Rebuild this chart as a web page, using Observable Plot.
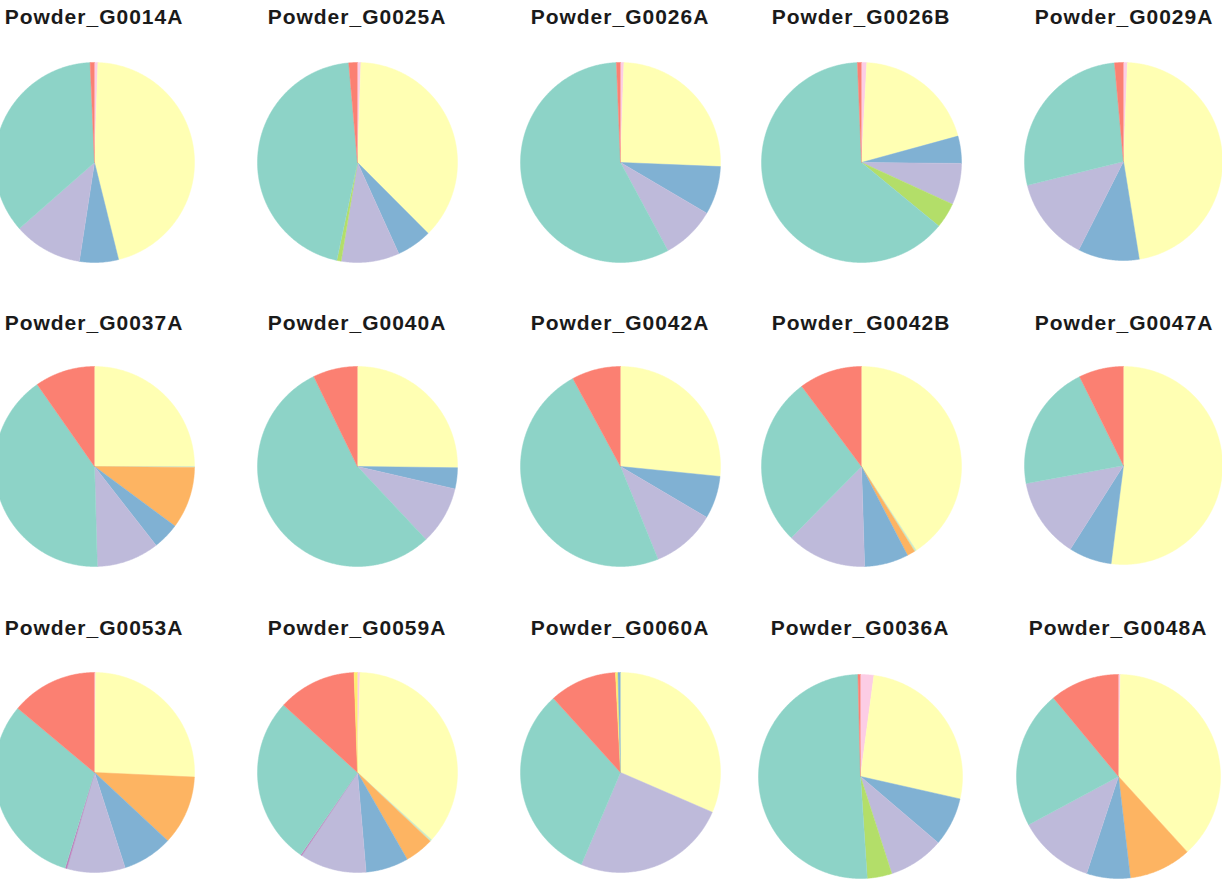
<!DOCTYPE html>
<html>
<head>
<meta charset="utf-8">
<script src="https://cdn.jsdelivr.net/npm/d3@7"></script>
<script src="https://cdn.jsdelivr.net/npm/@observablehq/plot@0.6"></script>
<style>
html, body { margin: 0; padding: 0; background: #fff; overflow: hidden; }
#fig { position: relative; width: 1222px; height: 883px; overflow: hidden; background: #fff; }
.title { position: absolute; width: 300px; text-align: center; font-family: "Liberation Sans", Arial, Helvetica, sans-serif; font-weight: bold; font-size: 21px; line-height: 21px; letter-spacing: 1px; color: #1a1a1a; white-space: nowrap; }
.pie { position: absolute; }
</style>
</head>
<body>
<div id="fig"></div>
<script>
// ---- data ----
const samples = ["Powder_G0014A", "Powder_G0025A", "Powder_G0026A", "Powder_G0026B", "Powder_G0029A",
                 "Powder_G0037A", "Powder_G0040A", "Powder_G0042A", "Powder_G0042B", "Powder_G0047A",
                 "Powder_G0053A", "Powder_G0059A", "Powder_G0060A", "Powder_G0036A", "Powder_G0048A"];
const categories = ["Group 01", "Group 02", "Group 03", "Group 04", "Group 05", "Group 06",
                    "Group 07", "Group 08", "Group 09", "Group 10", "Group 11", "Group 12"];
const colors = ["#fccde5", "#ffffb3", "#ccebc5", "#fdb462", "#80b1d3", "#bebada",
                "#bc80bd", "#b3de69", "#8dd3c7", "#fb8072", "#ffed6f", "#80b1d3"];

// one series per category, values (%) in sample order
const g01 = [0.55, 0.55, 0.55, 0.85, 0.65, 0, 0, 0, 0, 0, 0.2, 0.4, 0, 2.1, 0.3];
const g02 = [45.6, 37.0, 25.1, 19.9, 46.8, 25.0, 25.2, 26.6, 40.8, 52.0, 25.5, 36.4, 31.5, 26.4, 37.9];
const g03 = [0, 0, 0, 0, 0, 0.15, 0, 0, 0.3, 0, 0, 0.3, 0, 0, 0];
const g04 = [0, 0, 0, 0, 0, 10.0, 0, 0, 1.3, 0, 11.2, 4.7, 0, 0, 9.9];
const g05 = [6.3, 5.7, 7.8, 4.4, 10.0, 4.3, 3.4, 6.9, 7.1, 7.0, 8.1, 6.9, 0, 7.7, 6.9];
const g06 = [11.1, 9.4, 8.7, 6.7, 13.7, 10.1, 9.4, 10.4, 12.9, 13.1, 9.4, 10.8, 24.9, 8.8, 12.1];
const g07 = [0, 0, 0, 0, 0, 0, 0, 0, 0, 0, 0.3, 0.2, 0, 0, 0];
const g08 = [0, 0.7, 0, 4.1, 0, 0, 0, 0, 0, 0, 0, 0, 0, 3.9, 0];
const g09 = [35.8, 45.3, 57.2, 63.4, 27.4, 40.75, 54.8, 48.25, 27.4, 20.6, 31.3, 27.2, 31.9, 50.6, 21.8];
const g10 = [0.7, 1.4, 0.65, 0.65, 1.45, 9.7, 7.2, 7.9, 10.2, 7.3, 13.9, 12.7, 10.9, 0.4, 11.0];
const g11 = [0, 0, 0, 0, 0, 0, 0, 0, 0, 0, 0, 0.55, 0.4, 0, 0];
const g12 = [0, 0, 0, 0, 0, 0, 0, 0, 0, 0, 0, 0, 0.4, 0, 0];

const series = [g01, g02, g03, g04, g05, g06, g07, g08, g09, g10, g11, g12];

// ---- layout ----
const panelCx = [94, 357, 620, 861, 1124,  94, 357, 620, 861, 1124,  94, 357, 620, 860, 1118];
const panelCy = [162, 162, 162, 162, 162,  466, 466, 466, 466, 466,  772, 772, 772, 776, 776];
const panelR  = [100, 100, 100, 100, 100,  100, 100, 100, 100, 100,  100, 100, 100, 102, 102];
const titleTop = [6, 6, 6, 6, 6,  312, 312, 312, 312, 312,  617, 617, 617, 617, 617];

const fig = document.getElementById("fig");

samples.forEach((name, i) => {
  const vals = categories.map((c, k) => ({cat: c, v: series[k][i]})).filter(d => d.v > 0);
  const arcs = d3.pie().sort(null).value(d => d.v)(vals);
  const pts = [];
  const step = Math.PI / 360;
  arcs.forEach(a => {
    const cat = a.data.cat;
    pts.push({cat, x: 0, y: 0});
    for (let t = a.startAngle; t < a.endAngle; t += step) pts.push({cat, x: Math.sin(t), y: Math.cos(t)});
    pts.push({cat, x: Math.sin(a.endAngle), y: Math.cos(a.endAngle)});
  });
  const r = panelR[i];
  const chart = Plot.plot({
    width: 2 * r,
    height: 2 * r,
    margin: 0,
    x: {domain: [-1, 1], axis: null},
    y: {domain: [-1, 1], axis: null},
    color: {type: "ordinal", domain: categories, range: colors},
    style: {background: "transparent", overflow: "visible"},
    marks: [
      Plot.line(pts, {x: "x", y: "y", z: "cat", fill: "cat", stroke: "cat", strokeWidth: 0.5, curve: "linear"})
    ]
  });
  const holder = document.createElement("div");
  holder.className = "pie";
  holder.style.left = (panelCx[i] - r) + "px";
  holder.style.top = (panelCy[i] - r) + "px";
  holder.appendChild(chart);
  fig.appendChild(holder);

  const t = document.createElement("div");
  t.className = "title";
  t.textContent = name;
  t.style.left = (panelCx[i] - 150) + "px";
  t.style.top = titleTop[i] + "px";
  fig.appendChild(t);
});
</script>
</body>
</html>
